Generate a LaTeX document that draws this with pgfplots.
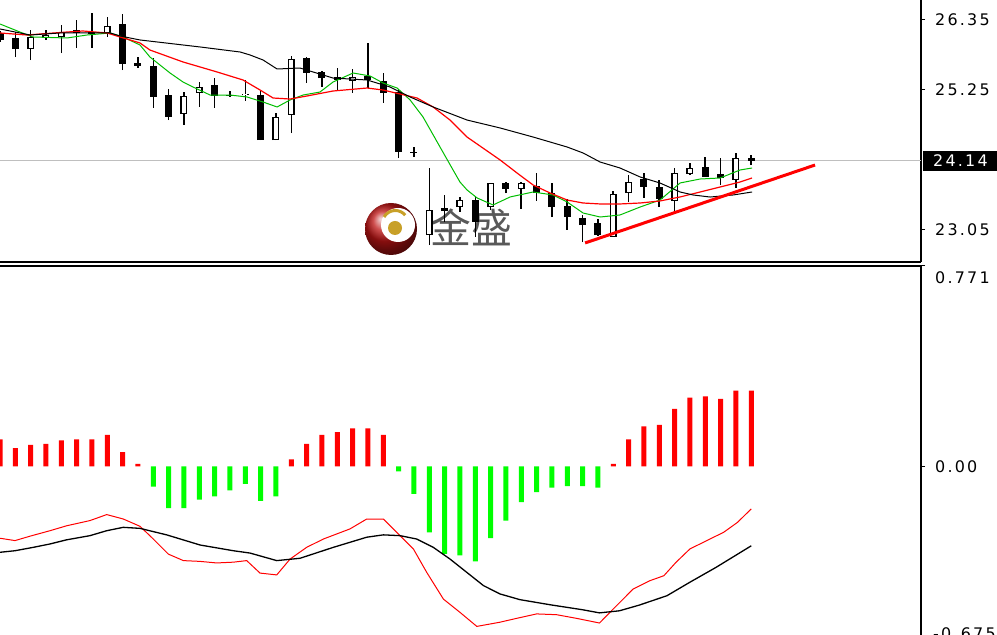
\documentclass[border=0pt]{standalone}
\usepackage{pgfplots}
\pgfplotsset{compat=1.18}
\usepackage{pgfplotstable}
\usepackage{fontspec}
\newfontfamily\lblfont[LetterSpace=14]{DejaVu Sans}
\newfontfamily\cjk{Noto Sans CJK SC}
\definecolor{magreen}{RGB}{0,190,0}
\definecolor{histgreen}{RGB}{0,255,0}
\definecolor{gold}{RGB}{200,160,40}
\definecolor{logored}{RGB}{190,20,20}

% candles: index open high low close
\pgfplotstableread{
i o h l c
2 25.894 26.193 25.721 26.083
3 26.083 26.193 26.036 26.114
4 26.083 26.271 25.831 26.161
7 26.145 26.397 26.083 26.256
12 24.873 25.218 24.700 25.155
13 25.203 25.375 24.983 25.297
16 25.171 25.407 25.077 25.187
18 24.464 24.888 24.464 24.826
19 24.857 25.784 24.574 25.737
23 25.391 25.580 25.203 25.454
28 22.971 24.024 22.814 23.364
30 23.411 23.568 23.333 23.521
32 23.411 23.788 23.364 23.788
34 23.694 23.804 23.380 23.788
40 22.940 23.663 22.940 23.615
41 23.631 23.914 23.490 23.804
44 23.506 24.024 23.301 23.946
45 23.930 24.103 23.914 24.024
48 23.836 24.260 23.710 24.181
}\bull
\pgfplotstableread{
i o h l c
0 26.145 26.177 26.004 26.036
1 26.067 26.161 25.768 25.894
5 26.193 26.350 25.910 26.145
6 26.161 26.460 25.910 26.130
8 26.287 26.444 25.564 25.658
9 25.674 25.768 25.596 25.627
10 25.627 25.753 24.967 25.140
11 25.171 25.265 24.778 24.826
14 25.328 25.438 24.967 25.155
15 25.179 25.234 25.140 25.163
17 25.171 25.250 24.464 24.464
20 25.753 25.768 25.360 25.517
21 25.533 25.548 25.297 25.438
22 25.454 25.595 25.250 25.407
24 25.470 25.988 25.281 25.407
25 25.391 25.517 25.046 25.203
26 25.218 25.265 24.181 24.276
27 24.276 24.354 24.197 24.260
29 23.396 23.600 23.176 23.348
31 23.521 23.568 22.940 23.176
33 23.788 23.804 23.631 23.694
35 23.741 23.946 23.506 23.631
36 23.631 23.788 23.254 23.411
37 23.427 23.537 23.050 23.254
38 23.238 23.286 22.861 23.128
39 23.160 23.223 22.956 22.971
42 23.851 23.946 23.553 23.726
43 23.726 23.836 23.411 23.537
46 24.040 24.197 23.883 23.883
47 23.930 24.181 23.757 23.867
49 24.181 24.229 24.071 24.140
}\bear

\pgfplotstableread{
x y
0 26.287
1.30 26.161
2.15 26.083
4.37 26.067
5.68 26.114
7.18 26.146
8.02 26.083
9.13 25.957
9.78 25.768
11.09 25.517
11.94 25.375
12.59 25.297
13.70 25.171
15.00 25.171
16.11 25.140
17.16 25.061
18.07 24.983
18.92 25.093
19.77 25.171
20.87 25.218
21.72 25.375
23.03 25.517
24.14 25.470
24.98 25.360
25.90 25.281
26.75 25.093
27.59 24.826
28.70 24.354
29.55 23.993
30.00 23.804
30.46 23.679
31.12 23.553
32.16 23.443
33.27 23.569
34.77 23.647
36.07 23.600
36.99 23.490
38.03 23.317
39.14 23.254
40.44 23.286
41.75 23.411
43.05 23.521
44.36 23.789
45.66 23.851
46.97 23.867
48.27 23.993
49.05 24.024
}\mafast

\pgfplotstableread{
x y
0 26.146
1.76 26.114
4.37 26.161
5.41 26.177
6.98 26.146
7.83 26.083
9.13 25.989
9.78 25.878
11.94 25.690
14.16 25.533
15.85 25.407
16.96 25.250
17.81 25.124
18.92 25.108
20.03 25.156
21.72 25.234
23.94 25.281
24.98 25.250
26.09 25.187
27.20 25.124
28.25 24.983
29.35 24.778
30.46 24.511
32.62 24.150
33.72 23.946
34.77 23.757
35.88 23.631
36.99 23.521
38.03 23.474
39.14 23.459
40.44 23.459
41.75 23.474
43.05 23.506
44.36 23.569
45.66 23.647
46.97 23.726
48.27 23.804
49.05 23.867
}\mamid

\pgfplotstableread{
x y
0 26.209
1.96 26.114
3.91 26.146
7.18 26.146
7.83 26.099
9.13 26.036
13.05 25.926
15.66 25.847
16.31 25.800
17.16 25.721
18.07 25.580
19.57 25.595
21.72 25.438
23.94 25.407
25.44 25.297
26.75 25.140
28.25 24.983
30.46 24.778
32.62 24.653
34.77 24.511
36.99 24.354
38.03 24.260
39.14 24.118
40.44 24.024
41.75 23.883
43.05 23.788
44.36 23.647
45.21 23.600
46.31 23.568
47.81 23.600
49.05 23.647
}\maslow

\pgfplotstableread{
i v
0 0.104
1 0.071
2 0.083
3 0.087
4 0.100
5 0.104
6 0.104
7 0.122
8 0.055
9 0.010
19 0.027
20 0.087
21 0.122
22 0.132
23 0.147
24 0.147
25 0.122
40 0.010
41 0.104
42 0.154
43 0.160
44 0.222
45 0.265
46 0.270
47 0.260
48 0.292
49 0.292
}\histpos
\pgfplotstableread{
i v
10 -0.077
11 -0.160
12 -0.160
13 -0.127
14 -0.115
15 -0.092
16 -0.067
17 -0.132
18 -0.115
26 -0.019
27 -0.105
28 -0.253
29 -0.336
30 -0.342
31 -0.365
32 -0.276
33 -0.208
34 -0.137
35 -0.099
36 -0.081
37 -0.076
38 -0.076
39 -0.081
}\histneg

\pgfplotstableread{
x y
0 -0.276
0.98 -0.285
1.96 -0.268
3.26 -0.247
4.35 -0.228
5.87 -0.208
6.96 -0.185
8.04 -0.202
9.13 -0.230
10.00 -0.279
10.98 -0.337
11.96 -0.362
13.05 -0.365
14.13 -0.371
15.22 -0.368
16.09 -0.362
16.96 -0.410
18.05 -0.417
18.92 -0.356
20.00 -0.311
21.09 -0.279
22.83 -0.240
23.92 -0.202
25.00 -0.202
26.09 -0.266
26.96 -0.317
27.83 -0.407
28.92 -0.510
30.00 -0.561
31.10 -0.615
32.60 -0.599
33.70 -0.584
35.00 -0.567
36.30 -0.570
37.60 -0.584
39.10 -0.602
40.00 -0.548
41.30 -0.471
42.40 -0.439
43.30 -0.420
44.10 -0.368
45.00 -0.317
46.10 -0.285
47.20 -0.253
48.10 -0.215
49.00 -0.163
}\macdline
\pgfplotstableread{
x y
0 -0.330
0.98 -0.324
2.17 -0.311
3.26 -0.298
4.35 -0.282
5.87 -0.266
6.96 -0.247
8.04 -0.234
9.13 -0.238
10.87 -0.263
13.05 -0.302
15.22 -0.324
16.31 -0.333
18.05 -0.362
19.57 -0.353
21.74 -0.311
23.92 -0.272
25.00 -0.263
26.09 -0.266
27.18 -0.279
28.26 -0.311
29.35 -0.356
30.44 -0.407
31.53 -0.458
32.60 -0.490
33.90 -0.512
35.90 -0.532
38.00 -0.551
39.10 -0.563
40.40 -0.555
41.70 -0.533
43.50 -0.497
45.00 -0.445
46.70 -0.388
49.00 -0.305
}\signalline

\pgfplotsset{
  candle/.style={draw=none, mark=none, forget plot,
    error bars/.cd, y dir=plus, y explicit, error mark=none,
    error bar style={draw=#1, solid}},
}
\tikzset{lbl/.style={font=\lblfont\fontsize{16}{16}\selectfont}}

\begin{document}
\begin{tikzpicture}
\path[use as bounding box] (0bp,0bp) rectangle (997bp,635bp);
\clip (0bp,0bp) rectangle (997bp,635bp);
\fill[white] (0bp,0bp) rectangle (997bp,635bp);

% watermark logo
\shade[ball color=logored] (391bp,406bp) circle (26bp);
\fill[white] (398bp,410bp) circle (17bp);
\fill[gold] (395bp,407bp) circle (7bp);
\draw[gold, line width=3bp] (384bp,418bp) arc (150:40:13bp);
\node[text=black!65, font=\cjk\fontsize{41}{41}\selectfont, inner sep=0pt] at (471bp,408bp) {金盛};

\begin{axis}[
  at={(0bp,373bp)}, anchor=south west, scale only axis,
  width=921bp, height=263bp,
  xmin=0, xmax=60.07, ymin=22.547, ymax=26.680,
  axis x line*=bottom, axis y line*=right,
  axis line style={-, black, line width=1.3bp},
  xtick=\empty,
  ytick={23.05,25.25,26.35}, yticklabels={23.05,25.25,26.35},
  tick align=outside, major tick length=4bp,
  tick style={black, line width=1bp},
  yticklabel style={lbl, anchor=west, inner sep=0pt, xshift=10bp},
  extra y ticks={24.14}, extra y tick labels={24.14},
  extra y tick style={grid=major, major grid style={black!25, line width=1.3bp},
    major tick length=0pt,
    yticklabel style={fill=black, text=white, inner xsep=10bp, inner ysep=4bp, xshift=-8bp}},
  clip=false,
]
% wicks
\addplot[candle=black, error bar style={line width=1.6bp}] table[x=i, y=l, y error plus expr=\thisrow{h}-\thisrow{l}] {\bull};
\addplot[candle=black, error bar style={line width=1.6bp}] table[x=i, y=l, y error plus expr=\thisrow{h}-\thisrow{l}] {\bear};
% bodies
\addplot[candle=black, error bar style={line width=7bp}] table[x=i, y=c, y error plus expr=\thisrow{o}-\thisrow{c}] {\bear};
\addplot[candle=black, error bar style={line width=7bp}] table[x=i, y=o, y error plus expr=\thisrow{c}-\thisrow{o}] {\bull};
\addplot[candle=white, error bar style={line width=4.2bp}] table[x=i, y expr=\thisrow{o}+0.021, y error plus expr=\thisrow{c}-\thisrow{o}-0.042] {\bull};
% moving averages
\addplot[magreen, line width=1bp, mark=none] table[x=x, y=y] {\mafast};
\addplot[red, line width=1.2bp, mark=none] table[x=x, y=y] {\mamid};
\addplot[black, line width=1bp, mark=none] table[x=x, y=y] {\maslow};
% trend line
\addplot[red, line width=3bp, mark=none] coordinates {(38.16,22.846) (53.16,24.071)};
\end{axis}

\begin{axis}[
  at={(0bp,-7bp)}, anchor=south west, scale only axis,
  width=921bp, height=376bp,
  xmin=0, xmax=60.07, ymin=-0.675, ymax=0.771,
  axis x line*=top, axis y line*=right,
  axis line style={-, black, line width=1.3bp},
  xtick=\empty,
  ytick={0}, yticklabels={0.00},
  tick align=outside, major tick length=4bp,
  tick style={black, line width=1bp},
  yticklabel style={lbl, anchor=west, inner sep=0pt, xshift=10bp},
  extra y ticks={0.771}, extra y tick labels={0.771},
  extra y tick style={yticklabel style={anchor=north west, yshift=-5bp}},
  clip=false,
]
\addplot[ybar, bar shift=0pt, bar width=5bp, fill=red, draw=none] table[x=i, y=v] {\histpos};
\addplot[ybar, bar shift=0pt, bar width=5bp, fill=histgreen, draw=none] table[x=i, y=v] {\histneg};
\addplot[red, line width=1bp, mark=none] table[x=x, y=y] {\macdline};
\addplot[black, line width=1.3bp, mark=none] table[x=x, y=y] {\signalline};
\node[lbl, anchor=south west, inner sep=0pt, xshift=12bp, yshift=2bp] at (axis cs:60.07,-0.675) {-0.675};
\end{axis}
\end{tikzpicture}
\end{document}
